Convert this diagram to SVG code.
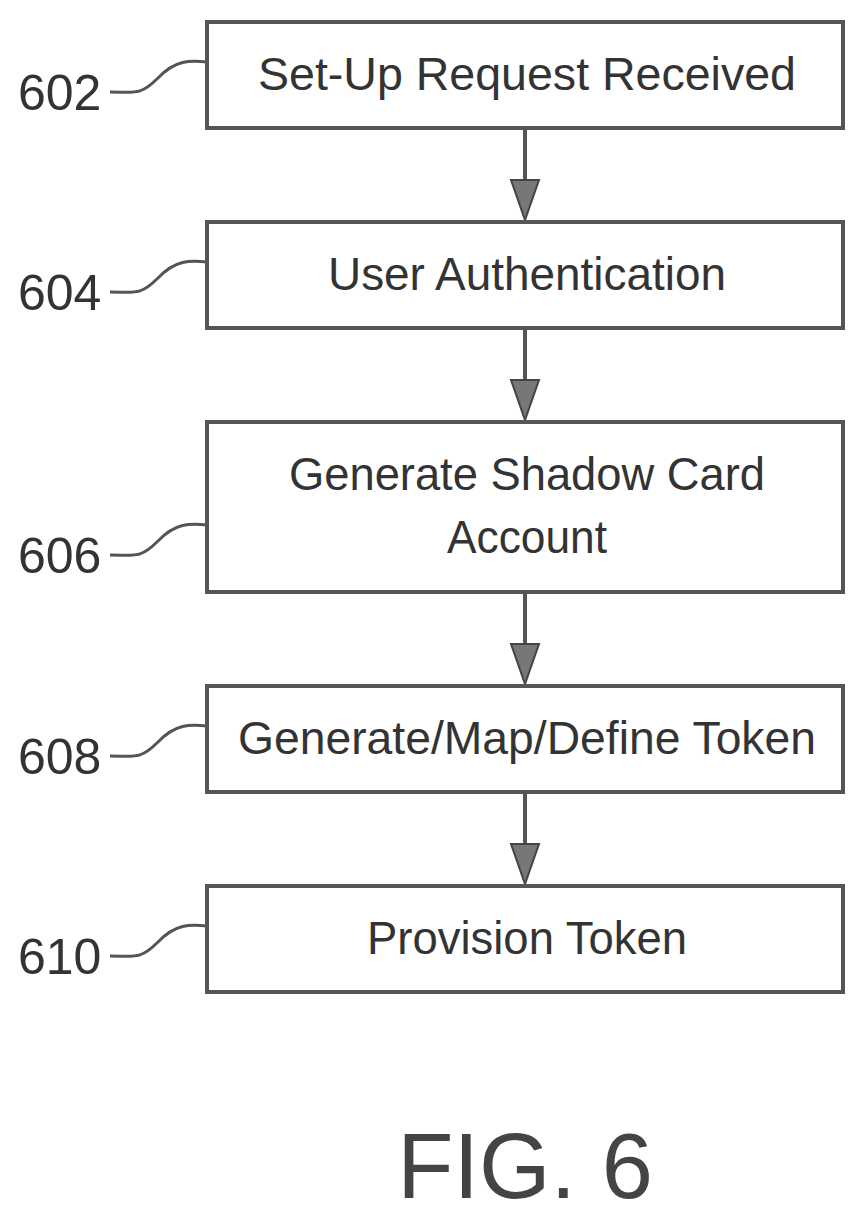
<svg xmlns="http://www.w3.org/2000/svg" width="868" height="1224" viewBox="0 0 868 1224">
<style>
.b{fill:#fff;stroke:#555;stroke-width:4}
.t{font-family:"Liberation Sans Narrow","Liberation Sans",sans-serif;font-size:46px;fill:#333;text-anchor:middle}
.l{font-family:"Liberation Sans Narrow","Liberation Sans",sans-serif;font-size:50px;fill:#333}
.c{fill:none;stroke:#555;stroke-width:4}
.s{fill:none;stroke:#555;stroke-width:3}
.h{fill:#777;stroke:#444;stroke-width:2}
</style>
<rect width="868" height="1224" fill="#fff"/>
<g id="connectors">
<line class="c" x1="525" y1="128" x2="525" y2="190"/><polygon class="h" points="511,180 539,180 525,220"/>
<line class="c" x1="525" y1="328" x2="525" y2="390"/><polygon class="h" points="511,380 539,380 525,420"/>
<line class="c" x1="525" y1="592" x2="525" y2="654"/><polygon class="h" points="511,644 539,644 525,684"/>
<line class="c" x1="525" y1="792" x2="525" y2="854"/><polygon class="h" points="511,844 539,844 525,884"/>
</g>
<g id="n602"><rect class="b" x="207" y="22" width="636" height="106"/><text class="t" x="527" y="90" textLength="538" lengthAdjust="spacingAndGlyphs">Set-Up Request Received</text>
<text class="l" x="18" y="110">602</text><path class="s" d="M110,92 C135,92 140,96 158,78 C175,60 190,60 207,62"/></g>
<g id="n604"><rect class="b" x="207" y="222" width="636" height="106"/><text class="t" x="527" y="290" textLength="398" lengthAdjust="spacingAndGlyphs">User Authentication</text>
<text class="l" x="18" y="310">604</text><path class="s" d="M110,292 C135,292 140,296 158,278 C175,260 190,260 207,262"/></g>
<g id="n606"><rect class="b" x="207" y="422" width="636" height="170"/><text class="t" x="527" y="490" textLength="476" lengthAdjust="spacingAndGlyphs">Generate Shadow Card</text><text class="t" x="527" y="553" textLength="160" lengthAdjust="spacingAndGlyphs">Account</text>
<text class="l" x="18" y="573">606</text><path class="s" d="M110,555 C135,555 140,559 158,541 C175,523 190,523 207,525"/></g>
<g id="n608"><rect class="b" x="207" y="686" width="636" height="106"/><text class="t" x="527" y="754" textLength="578" lengthAdjust="spacingAndGlyphs">Generate/Map/Define Token</text>
<text class="l" x="18" y="774">608</text><path class="s" d="M110,756 C135,756 140,760 158,742 C175,724 190,724 207,726"/></g>
<g id="n610"><rect class="b" x="207" y="886" width="636" height="106"/><text class="t" x="527" y="954" textLength="320" lengthAdjust="spacingAndGlyphs">Provision Token</text>
<text class="l" x="18" y="974">610</text><path class="s" d="M110,956 C135,956 140,960 158,942 C175,924 190,924 207,926"/></g>
<text x="525" y="1198" font-family="Liberation Sans,sans-serif" font-size="92" fill="#444" text-anchor="middle">FIG. 6</text>
</svg>
